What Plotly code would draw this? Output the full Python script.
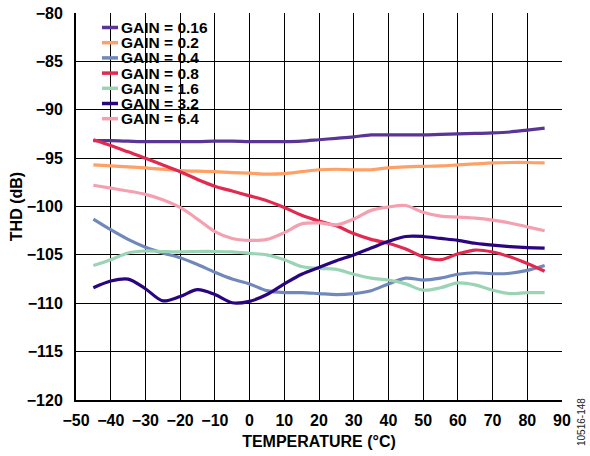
import plotly.graph_objects as go

# ---------------- data ----------------
temperature = [-45, -40, -35, -30, -25, -20, -15, -10, -5, 0, 5, 10, 15, 20, 25,
               30, 35, 40, 45, 50, 55, 60, 65, 70, 75, 80, 85]

gain_labels = ["GAIN = 0.16", "GAIN = 0.2", "GAIN = 0.4", "GAIN = 0.8",
               "GAIN = 1.6", "GAIN = 3.2", "GAIN = 6.4"]

x_tick_values = [-50, -40, -30, -20, -10, 0, 10, 20, 30, 40, 50, 60, 70, 80, 90]
x_tick_labels = ["−50", "−40", "−30", "−20", "−10", "0", "10", "20", "30", "40",
                 "50", "60", "70", "80", "90"]
y_tick_values = [-120, -115, -110, -105, -100, -95, -90, -85, -80]
y_tick_labels = ["−120", "−115", "−110", "−105", "−100", "−95", "−90", "−85", "−80"]

thd_gain_0_16 = [-93.2, -93.2, -93.25, -93.3, -93.3, -93.3, -93.3, -93.25, -93.25, -93.3,
                 -93.3, -93.3, -93.25, -93.1, -92.95, -92.8, -92.6, -92.6, -92.6, -92.6,
                 -92.55, -92.5, -92.45, -92.4, -92.3, -92.1, -91.9]
thd_gain_0_2 = [-95.7, -95.8, -95.9, -96.0, -96.15, -96.3, -96.35, -96.4, -96.5, -96.55,
                -96.65, -96.6, -96.4, -96.2, -96.15, -96.2, -96.2, -96.0, -95.9, -95.85,
                -95.8, -95.7, -95.6, -95.5, -95.45, -95.45, -95.5]
thd_gain_0_4 = [-101.3, -102.4, -103.4, -104.2, -104.8, -105.3, -106.0, -106.8, -107.5, -108.0,
                -108.7, -108.9, -108.9, -109.0, -109.1, -109.0, -108.7, -108.0, -107.4, -107.6,
                -107.4, -107.0, -106.85, -106.95, -106.9, -106.6, -106.1]
thd_gain_0_8 = [-93.1, -93.7, -94.35, -95.0, -95.7, -96.4, -97.2, -97.9, -98.4, -98.9,
                -99.4, -100.1, -100.9, -101.5, -102.0, -102.8, -103.4, -103.8, -104.4, -105.2,
                -105.5, -104.9, -104.5, -104.7, -105.2, -105.9, -106.7]
thd_gain_1_6 = [-106.1, -105.5, -104.8, -104.6, -104.65, -104.7, -104.65, -104.65, -104.7, -104.85,
                -105.0, -105.5, -106.2, -106.4, -106.5, -107.0, -107.4, -107.6, -108.0, -108.65,
                -108.4, -107.9, -108.1, -108.65, -109.0, -108.9, -108.9]
thd_gain_3_2 = [-108.4, -107.7, -107.5, -108.5, -109.75, -109.3, -108.6, -109.1, -109.95, -109.8,
                -109.1, -108.0, -107.0, -106.3, -105.6, -105.0, -104.3, -103.6, -103.1, -103.1,
                -103.3, -103.5, -103.8, -104.0, -104.15, -104.25, -104.3]
thd_gain_6_4 = [-97.8, -98.1, -98.4, -98.75, -99.3, -100.1, -101.3, -102.6, -103.3, -103.5,
                -103.4, -102.7, -101.8, -101.7, -101.9, -101.3, -100.4, -100.05, -99.9, -100.6,
                -101.0, -101.1, -101.2, -101.4, -101.7, -102.1, -102.5]

series = [thd_gain_0_16, thd_gain_0_2, thd_gain_0_4, thd_gain_0_8,
          thd_gain_1_6, thd_gain_3_2, thd_gain_6_4]
colors = ["#5B3596", "#FFA066", "#7089BA", "#E2294F", "#9BD3B5", "#2B0580", "#F4A0B0"]

# ---------------- layout geometry ----------------
W, H = 590, 456
ML, MR, MT, MB = 76, 28, 13, 56
PW, PH = W - ML - MR, H - MT - MB
FONT = "Liberation Sans"


def px(x):
    return (x - ML) / PW


def py(y):
    return 1 - (y - MT) / PH


def bold(s):
    return "<b>" + s + "</b>"


fig = go.Figure()
for name, vals, col in zip(gain_labels, series, colors):
    fig.add_trace(go.Scatter(
        x=temperature, y=vals, name=name, mode="lines",
        line=dict(color=col, width=3.2, shape="spline", smoothing=0.9),
        showlegend=False, hoverinfo="skip",
    ))

shapes = [dict(type="rect", xref="paper", yref="paper",
               x0=px(98), x1=px(217), y0=py(128), y1=py(15),
               fillcolor="white", line=dict(width=0), layer="between")]
annotations = []
row_y0, row_dy = 27.5, 15.2
for i, (name, col) in enumerate(zip(gain_labels, colors)):
    yy = py(row_y0 + i * row_dy)
    shapes.append(dict(type="line", xref="paper", yref="paper",
                       x0=px(102), x1=px(118), y0=yy, y1=yy,
                       line=dict(color=col, width=3.5), layer="above"))
    annotations.append(dict(text=bold(name), xref="paper", yref="paper",
                            x=px(120), y=yy, xanchor="left", yanchor="middle",
                            showarrow=False, borderpad=0,
                            font=dict(family=FONT, size=15.5, color="black", weight="bold")))

annotations.append(dict(text="10516-148", xref="paper", yref="paper",
                        x=px(581), y=py(422), textangle=-90,
                        xanchor="center", yanchor="middle", showarrow=False,
                        font=dict(family=FONT, size=10, color="#222")))

axis_common = dict(
    showgrid=True, gridcolor="black", gridwidth=1,
    showline=True, linecolor="black", linewidth=2, mirror=False,
    ticks="", zeroline=False, automargin=False,
    tickfont=dict(family=FONT, size=16, color="black", weight="bold"),
)

fig.update_layout(
    template="none",
    width=W, height=H,
    margin=dict(l=ML, r=MR, t=MT, b=MB, pad=0, autoexpand=False),
    paper_bgcolor="white", plot_bgcolor="white",
    showlegend=False,
    xaxis=dict(range=[-50, 90], tickmode="array", tickvals=x_tick_values,
               ticktext=[bold(t) for t in x_tick_labels], ticklabelstandoff=5,
               title=dict(text=bold("TEMPERATURE (°C)"), standoff=8,
                          font=dict(family=FONT, size=16, color="black", weight="bold")),
               **axis_common),
    yaxis=dict(range=[-120, -80], tickmode="array", tickvals=y_tick_values,
               ticktext=[bold(t) for t in y_tick_labels], ticklabelstandoff=8,
               title=dict(text=bold("THD (dB)"), standoff=0,
                          font=dict(family=FONT, size=16, color="black", weight="bold")),
               **axis_common),
    shapes=shapes,
    annotations=annotations,
)

fig.write_html("out.html", config={"displayModeBar": False, "staticPlot": True},
               post_script="document.body.style.margin='0';document.body.style.padding='0';")
